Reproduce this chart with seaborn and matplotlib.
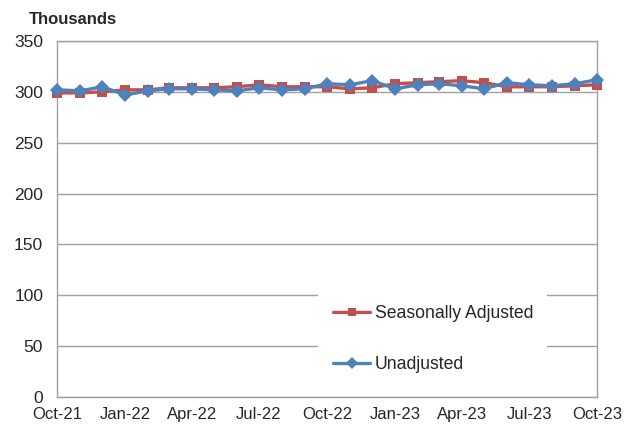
import pandas as pd
import matplotlib.pyplot as plt
import matplotlib.dates as mdates
from matplotlib.patches import Rectangle
import seaborn as sns

# Données (milliers)
months = pd.date_range("2021-10-01", "2023-10-01", freq="MS")
seasonally_adjusted = [299, 299, 300, 302, 302, 304, 304, 304, 305, 307, 305, 305, 305,
                       303, 304, 308, 309, 310, 311, 309, 305, 305, 305, 306, 307]
unadjusted = [302, 301, 305, 297, 301, 303, 303, 302, 301, 304, 302, 303, 308,
              307, 311, 303, 307, 308, 306, 303, 309, 307, 306, 308, 312]

df = pd.DataFrame({
    "Mois": list(months) * 2,
    "Valeur": seasonally_adjusted + unadjusted,
    "Serie": ["Seasonally Adjusted"] * len(months) + ["Unadjusted"] * len(months),
})

sns.set_style("white")
plt.rcParams["font.family"] = ["Liberation Sans", "DejaVu Sans"]

fig = plt.figure(figsize=(6.34, 4.28), dpi=100)
ax = fig.add_axes([0.09, 0.0724, 0.852, 0.8318])

sns.lineplot(data=df, x="Mois", y="Valeur", hue="Serie", style="Serie",
             palette={"Seasonally Adjusted": "#C0504D", "Unadjusted": "#4F81BD"},
             markers={"Seasonally Adjusted": "s", "Unadjusted": "D"},
             dashes=False, linewidth=2.4, markersize=7.5, markeredgewidth=0,
             ax=ax, zorder=3)
for line in ax.lines:
    line.set_clip_on(False)

ax.set_ylim(0, 350)
ax.set_yticks(range(0, 351, 50))
ax.set_xlim(months[0], months[-1])
ax.xaxis.set_major_locator(mdates.MonthLocator(bymonth=[1, 4, 7, 10]))
ax.xaxis.set_major_formatter(mdates.DateFormatter("%b-%y"))
ax.grid(axis="y", color="#A0A0A0", linewidth=1)
ax.set_axisbelow(True)
for s in ax.spines.values():
    s.set_color("#A0A0A0")
    s.set_linewidth(1)
ax.tick_params(axis="x", direction="out", length=4, color="#A0A0A0", labelsize=12, pad=3)
ax.tick_params(axis="y", length=0, labelsize=12.5, pad=10)
ax.set_xlabel("")
ax.set_ylabel("")

# fond blanc de la légende (masque les lignes de grille)
ax.add_patch(Rectangle((0.483, 0.06), 0.424, 0.25, transform=ax.transAxes,
                       facecolor="white", edgecolor="none", zorder=1.5))

leg = ax.legend(loc="upper left", bbox_to_anchor=(0.511, 0.258), fontsize=12.7,
                frameon=False, labelspacing=1.9, handlelength=2.1,
                handletextpad=0.25, borderpad=0, borderaxespad=0)
for h in leg.legend_handles:
    h.set_markersize(6)

fig.text(0.045, 0.955, "Thousands", fontsize=12, fontweight="bold", va="center")

plt.savefig("out.png", dpi=100)
